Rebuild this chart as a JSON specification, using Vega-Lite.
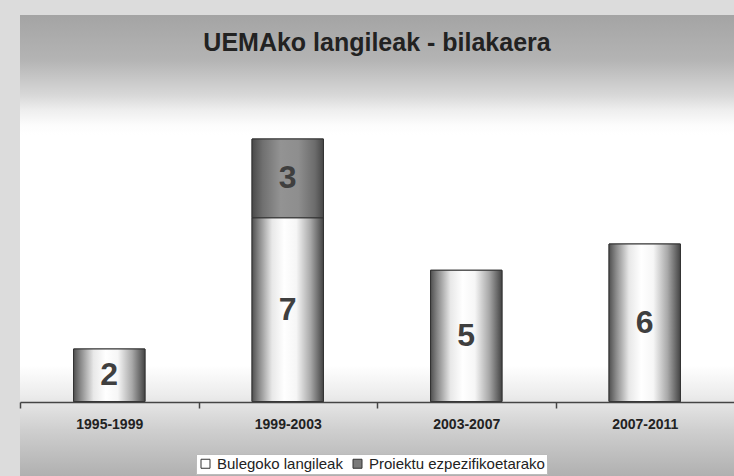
{
  "$schema": "https://vega.github.io/schema/vega-lite/v6.json",
  "autosize": {"type": "none"},
  "padding": {"left": 20, "top": 15, "right": 0, "bottom": 0},
  "width": 714,
  "height": 461,
  "background": "#dcdcdc",
  "title": {
    "text": "UEMAko langileak - bilakaera",
    "font": "Liberation Sans, sans-serif",
    "fontSize": 25,
    "fontWeight": "bold",
    "color": "#222222",
    "anchor": "middle",
    "baseline": "alphabetic",
    "offset": -61
  },
  "data": {
    "values": [
      {"periodo": "1995-1999", "mota": "Bulegoko langileak", "n": 2},
      {"periodo": "1999-2003", "mota": "Bulegoko langileak", "n": 7},
      {"periodo": "1999-2003", "mota": "Proiektu ezpezifikoetarako", "n": 3},
      {"periodo": "2003-2007", "mota": "Bulegoko langileak", "n": 5},
      {"periodo": "2007-2011", "mota": "Bulegoko langileak", "n": 6}
    ]
  },
  "encoding": {
    "x": {
      "field": "periodo",
      "type": "nominal",
      "title": null,
      "scale": {"paddingInner": 0.6, "paddingOuter": 0.3},
      "axis": {
        "offset": -74,
        "zindex": 1,
        "tickOffset": -89.25,
        "labelOffset": 89.25,
        "domainColor": "#444444",
        "domainWidth": 1.5,
        "tickColor": "#444444",
        "tickWidth": 1.5,
        "tickSize": 6,
        "labelAngle": 0,
        "labelFont": "Liberation Sans, sans-serif",
        "labelFontSize": 14,
        "labelFontWeight": "bold",
        "labelColor": "#222222",
        "labelPadding": 9
      }
    },
    "y": {
      "field": "n",
      "type": "quantitative",
      "stack": "zero",
      "scale": {"domain": [-2.838, 14.724], "nice": false, "zero": false},
      "axis": null
    },
    "order": {"field": "mota", "sort": "ascending"}
  },
  "layer": [
    {
      "mark": {
        "type": "rect",
        "fill": {
          "gradient": "linear",
          "x1": 0, "y1": 0, "x2": 0, "y2": 1,
          "stops": [
            {"offset": 0, "color": "#a4a4a4"},
            {"offset": 0.098, "color": "#b4b4b4"},
            {"offset": 0.174, "color": "#d8d8d8"},
            {"offset": 0.206, "color": "#eeeeee"},
            {"offset": 0.239, "color": "#fcfcfc"},
            {"offset": 0.26, "color": "#ffffff"},
            {"offset": 0.76, "color": "#ffffff"},
            {"offset": 0.824, "color": "#ececec"},
            {"offset": 0.9, "color": "#cfcfcf"},
            {"offset": 1, "color": "#b0b0b0"}
          ]
        }
      },
      "encoding": {"x": null, "y": null, "order": null}
    },
    {
      "mark": {"type": "bar", "stroke": "#333333", "strokeWidth": 1},
      "encoding": {
        "color": {
          "field": "mota",
          "type": "nominal",
          "scale": {
            "domain": ["Bulegoko langileak", "Proiektu ezpezifikoetarako"],
            "range": ["#ffffff", "#7a7a7a"]
          },
          "legend": {
            "title": null,
            "orient": "none",
            "legendX": 176,
            "legendY": 439,
            "direction": "horizontal",
            "symbolType": "square",
            "symbolSize": 81,
            "symbolStrokeColor": "#333333",
            "symbolStrokeWidth": 1,
            "labelFont": "Liberation Sans, sans-serif",
            "labelFontSize": 15,
            "labelColor": "#222222",
            "labelOffset": 4,
            "labelLimit": 400,
            "columnPadding": 7,
            "fillColor": "#ffffff",
            "strokeColor": "#bbbbbb",
            "padding": 2
          }
        }
      }
    },
    {
      "mark": {"type": "bar", "stroke": "#333333", "strokeWidth": 1},
      "encoding": {
        "detail": {"field": "mota"},
        "fill": {
          "condition": {
            "test": "datum.mota === 'Proiektu ezpezifikoetarako'",
            "value": {
              "gradient": "linear", "x1": 0, "y1": 0, "x2": 1, "y2": 0,
              "stops": [
                {"offset": 0, "color": "#4a4a4a"},
                {"offset": 0.15, "color": "#707070"},
                {"offset": 0.4, "color": "#939393"},
                {"offset": 0.65, "color": "#8e8e8e"},
                {"offset": 0.88, "color": "#6c6c6c"},
                {"offset": 1, "color": "#474747"}
              ]
            }
          },
          "value": {
            "gradient": "linear", "x1": 0, "y1": 0, "x2": 1, "y2": 0,
            "stops": [
              {"offset": 0, "color": "#505050"},
              {"offset": 0.1, "color": "#8a8a8a"},
              {"offset": 0.28, "color": "#e8e8e8"},
              {"offset": 0.45, "color": "#ffffff"},
              {"offset": 0.62, "color": "#f6f6f6"},
              {"offset": 0.82, "color": "#a8a8a8"},
              {"offset": 1, "color": "#444444"}
            ]
          }
        }
      }
    },
    {
      "mark": {
        "type": "text",
        "font": "Liberation Sans, sans-serif",
        "fontSize": 32,
        "fontWeight": "bold",
        "color": "#3f3f3f",
        "baseline": "middle"
      },
      "encoding": {
        "y": {"field": "n", "type": "quantitative", "stack": "zero", "bandPosition": 0.5},
        "detail": {"field": "mota"},
        "text": {"field": "n", "type": "quantitative"}
      }
    }
  ],
  "config": {
    "view": {"stroke": null}
  }
}
